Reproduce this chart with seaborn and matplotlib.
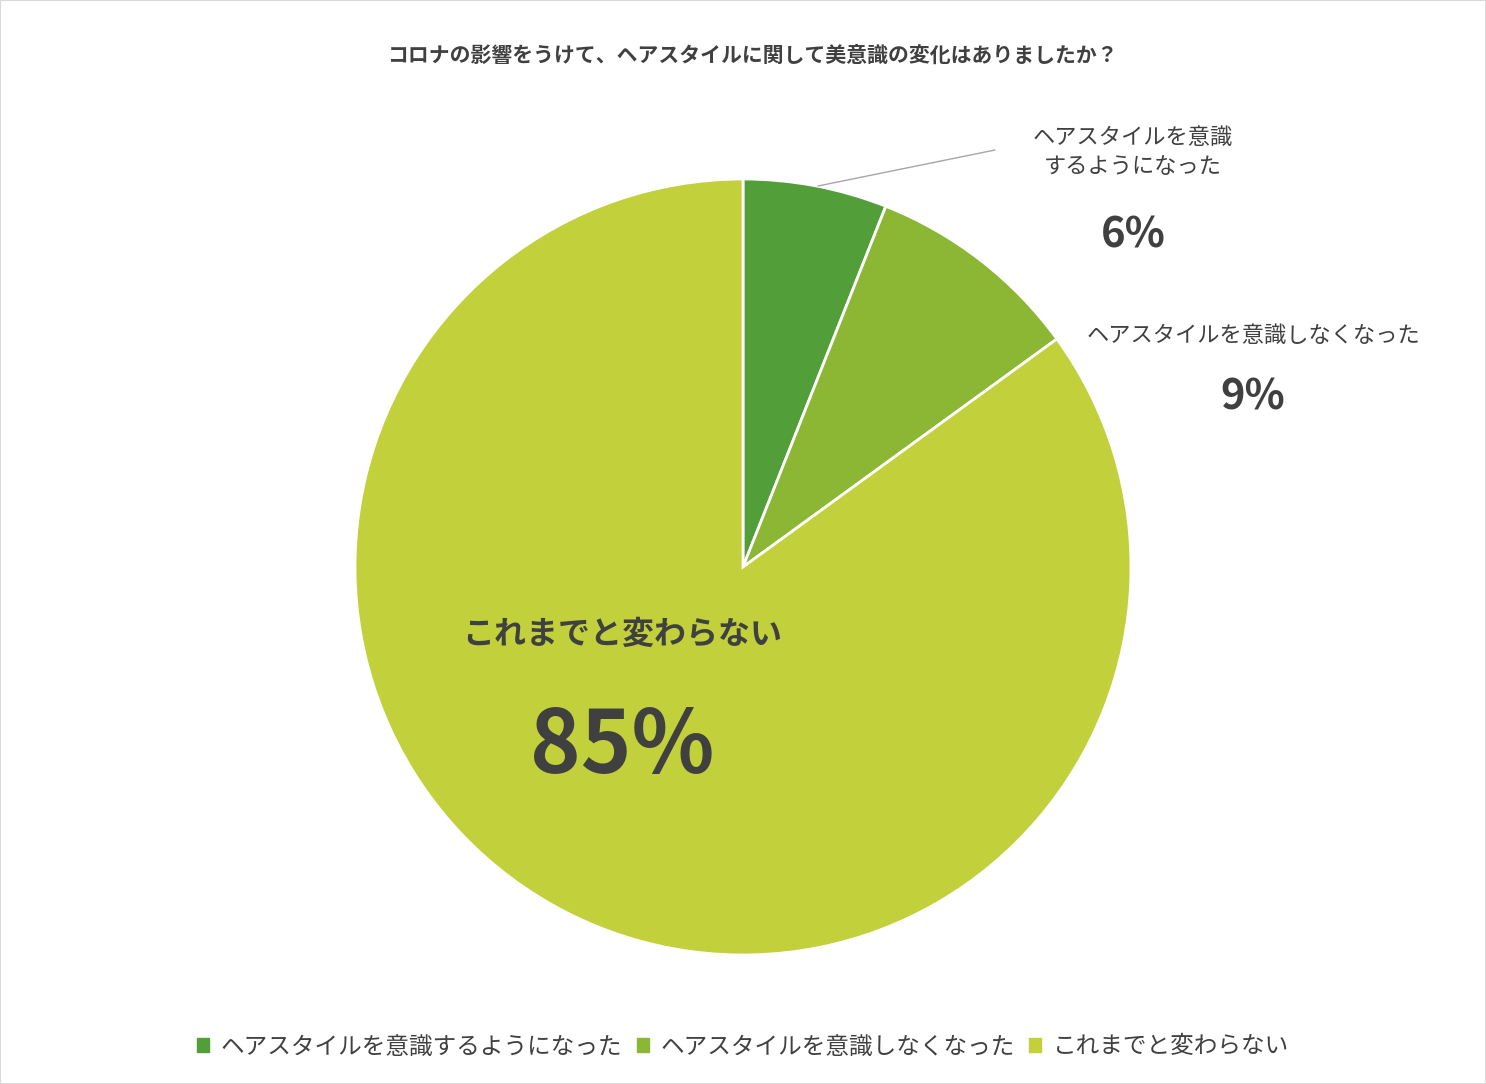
import matplotlib
matplotlib.use("Agg")
import matplotlib.pyplot as plt
import seaborn as sns
from matplotlib.patches import Rectangle

sns.set_theme(style="white")
plt.rcParams['font.family'] = ['Noto Sans CJK JP', 'DejaVu Sans']

# data
categories = ["ヘアスタイルを意識するようになった", "ヘアスタイルを意識しなくなった", "これまでと変わらない"]
values = [6, 9, 85]
colors = ["#529E39", "#8BB734", "#C2D03B"]
title = "コロナの影響をうけて、ヘアスタイルに関して美意識の変化はありましたか？"

W, H = 1486, 1084
fig = plt.figure(figsize=(W / 100, H / 100), dpi=100)
fig.patches.append(Rectangle((0, 0), 1, 1, transform=fig.transFigure, fill=False,
                             edgecolor="#D9D9D9", linewidth=1.5))

cx, cy, r = 743, 567, 388
ax = fig.add_axes([(cx - r) / W, (H - cy - r) / H, 2 * r / W, 2 * r / H])
ax.pie(values, colors=colors, startangle=90, counterclock=False, radius=1,
       wedgeprops=dict(edgecolor="white", linewidth=2))
ax.set_xlim(-1, 1)
ax.set_ylim(-1, 1)
ax.set_aspect("equal")
ax.axis("off")

def ft(x, y, s, **kw):
    fig.text(x / W, 1 - y / H, s, ha="center", va="center", color="#404040", **kw)

ft(752, 55, title, fontsize=15, fontweight="bold")

ft(1133, 152, "ヘアスタイルを意識\nするようになった", fontsize=16, linespacing=1.3)
ft(1133, 235, f"{values[0]}%", fontsize=30, fontweight="bold")
ft(1253, 335, categories[1], fontsize=16)
ft(1253, 398, f"{values[1]}%", fontsize=30, fontweight="bold")
ft(622, 635, categories[2], fontsize=23, fontweight="bold")
ft(622, 748, f"{values[2]}%", fontsize=62, fontweight="bold")

fig.add_artist(plt.Line2D([818 / W, 995 / W], [1 - 186 / H, 1 - 150 / H],
                          transform=fig.transFigure, color="#A6A6A6", linewidth=1))

# legend
handles = [Rectangle((0, 0), 1, 1, color=c) for c in colors]
fig.legend(handles, categories, loc="center", bbox_to_anchor=(0.5, 1 - 1047 / H),
           ncol=3, frameon=False, fontsize=17, handlelength=0.5, handleheight=0.5,
           handletextpad=0.5, columnspacing=0.6, labelcolor="#404040")

fig.savefig("out.png", dpi=100)
